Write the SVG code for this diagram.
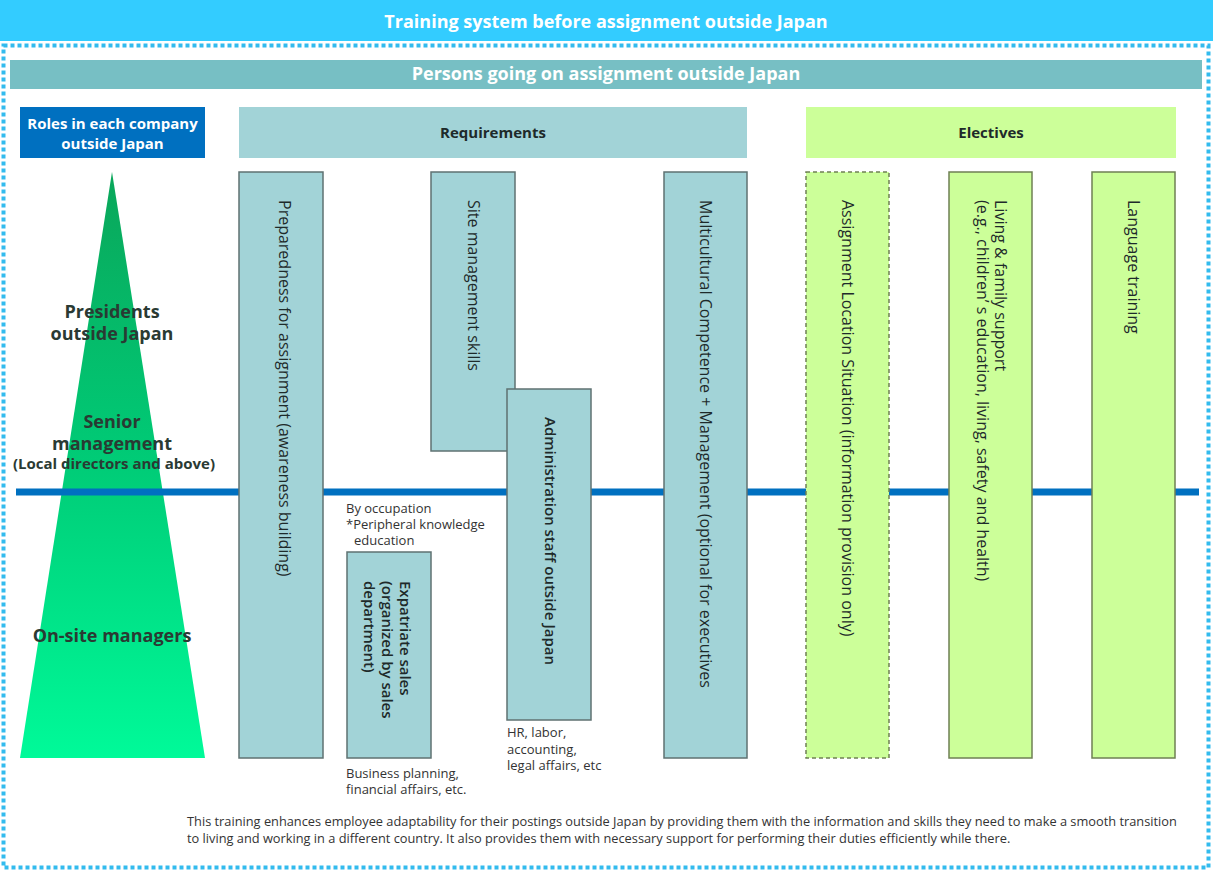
<svg xmlns="http://www.w3.org/2000/svg" width="1213" height="871" viewBox="0 0 1213 871">
<style>
text{font-family:"Open Sans","Noto Sans",sans-serif;}
.hdrW{fill:#ffffff;font-weight:bold;text-anchor:middle;}
.req{fill:#A2D3D7;stroke:#5F7272;stroke-width:1.5;}
.ele{fill:#CCFF99;stroke:#6F8054;stroke-width:1.5;}
.vt{font-size:16px;fill:#1E2A2A;font-weight:500;}
.vb{font-size:15px;fill:#1E2A2A;font-weight:600;}
.role{font-size:18px;font-weight:bold;fill:#2A3A33;text-anchor:middle;}
.note{font-size:13px;fill:#333333;}
.foot{font-size:12.8px;fill:#333333;}
</style>
<defs>
<linearGradient id="tri" x1="0" y1="0" x2="0" y2="1">
<stop offset="0" stop-color="#0AA65A"/>
<stop offset="0.5" stop-color="#00CC77"/>
<stop offset="1" stop-color="#00FA99"/>
</linearGradient>
</defs>
<rect width="1213" height="871" fill="#ffffff"/>
<g id="title">
<rect x="0" y="0" width="1213" height="41" fill="#33CCFF"/>
<text class="hdrW" x="606" y="28" font-size="18">Training system before assignment outside Japan</text>
</g>
<rect x="3.5" y="45.5" width="1205" height="822" fill="none" stroke="#33BBEE" stroke-width="4" stroke-dasharray="4 3"/>
<g id="persons">
<rect x="10" y="60" width="1192" height="29" fill="#77BFC4"/>
<text class="hdrW" x="606" y="80" font-size="18">Persons going on assignment outside Japan</text>
</g>
<g id="roles">
<rect x="20" y="107" width="185" height="51" fill="#0070C0"/>
<text class="hdrW" x="112.5" y="129" font-size="15">Roles in each company</text>
<text class="hdrW" x="112.5" y="149" font-size="15">outside Japan</text>
</g>
<g id="requirements">
<rect x="239" y="107" width="508" height="51" fill="#A2D3D7"/>
<text x="493" y="138" font-size="15" font-weight="bold" fill="#1E2A2A" text-anchor="middle">Requirements</text>
</g>
<g id="electives">
<rect x="806" y="107" width="370" height="51" fill="#CCFF99"/>
<text x="991" y="138" font-size="15" font-weight="bold" fill="#1E2A2A" text-anchor="middle">Electives</text>
</g>
<g id="pyramid">
<polygon points="112,172 205,758 20,758" fill="url(#tri)"/>
<text class="role" x="112" y="318">Presidents</text>
<text class="role" x="112" y="340">outside Japan</text>
<text class="role" x="112" y="428">Senior</text>
<text class="role" x="112" y="450">management</text>
<text x="114" y="469" font-size="15" font-weight="bold" fill="#2A3A33" text-anchor="middle">(Local directors and above)</text>
<text class="role" x="112" y="642">On-site managers</text>
</g>
<g id="connectors">
<line x1="16" y1="492" x2="1199" y2="492" stroke="#0070C0" stroke-width="7"/>
</g>
<g id="preparedness">
<rect class="req" x="239" y="172" width="84" height="586"/>
<text class="vt" transform="translate(279,200) rotate(90)">Preparedness for assignment (awareness building)</text>
</g>
<g id="site-management">
<rect class="req" x="431" y="172" width="84" height="279"/>
<text class="vt" transform="translate(468,200) rotate(90)">Site management skills</text>
</g>
<g id="administration">
<rect class="req" x="507" y="389" width="84" height="331"/>
<text class="vb" transform="translate(545,417) rotate(90)">Administration staff outside Japan</text>
</g>
<g id="expatriate-sales">
<rect class="req" x="347" y="552" width="84" height="206"/>
<text class="vb" transform="translate(400,581) rotate(90)"><tspan x="0" y="0">Expatriate sales</tspan><tspan x="0" y="18">(organized by sales</tspan><tspan x="0" y="36">department)</tspan></text>
</g>
<g id="multicultural">
<rect class="req" x="664" y="172" width="83" height="586"/>
<text class="vt" transform="translate(700,200) rotate(90)">Multicultural Competence + Management (optional for executives</text>
</g>
<g id="assignment-location">
<rect class="ele" x="806" y="172" width="83" height="586" stroke-dasharray="4 3"/>
<text class="vt" transform="translate(842,200) rotate(90)">Assignment Location Situation (information provision only)</text>
</g>
<g id="living-family">
<rect class="ele" x="949" y="172" width="83" height="586"/>
<text class="vt" transform="translate(995,200) rotate(90)"><tspan x="0" y="0">Living &amp; family support</tspan><tspan x="0" y="18">(e.g., children’ s education, living, safety and health)</tspan></text>
</g>
<g id="language">
<rect class="ele" x="1092" y="172" width="83" height="586"/>
<text class="vt" transform="translate(1128,200) rotate(90)">Language training</text>
</g>
<g id="notes">
<text class="note" x="346" y="513">By occupation</text>
<text class="note" x="346" y="529">*Peripheral knowledge</text>
<text class="note" x="354" y="545">education</text>
<text class="note" x="346" y="778">Business planning,</text>
<text class="note" x="346" y="794">financial affairs, etc.</text>
<text class="note" x="507" y="737">HR, labor,</text>
<text class="note" x="507" y="754">accounting,</text>
<text class="note" x="507" y="770">legal affairs, etc</text>
</g>
<g id="footer">
<text class="foot" x="187" y="826">This training enhances employee adaptability for their postings outside Japan by providing them with the information and skills they need to make a smooth transition</text>
<text class="foot" x="187" y="843">to living and working in a different country. It also provides them with necessary support for performing their duties efficiently while there.</text>
</g>
</svg>
